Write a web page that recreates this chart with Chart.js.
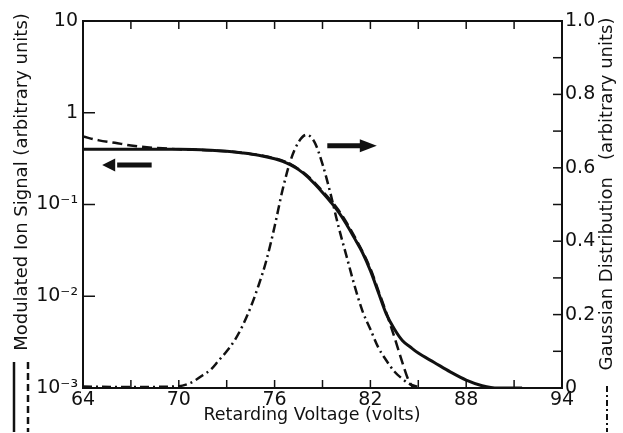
<!DOCTYPE html>
<html><head><meta charset="utf-8">
<script src="https://cdn.jsdelivr.net/npm/chart.js@4/dist/chart.umd.min.js"></script>
<style>html,body{margin:0;padding:0;background:#fff}#wrap{width:623px;height:433px}</style>
</head><body><div id="wrap"><canvas id="c" width="623" height="433"></canvas></div>
<script>
// ---- data ----
const solidVolts  = [64,66,68,70,72,73,74,75,76,76.5,77,77.5,78,78.5,79,79.5,80,80.5,81,81.5,82,82.5,83,83.5,84,84.5,85,86,87,88,89,90,91.5];
const solidSignal = [0.40,0.40,0.40,0.40,0.39,0.38,0.365,0.345,0.315,0.295,0.27,0.24,0.205,0.168,0.135,0.107,0.083,0.061,0.043,0.030,0.019,0.011,0.0064,0.0044,0.0033,0.0028,0.0024,0.0019,0.0015,0.00122,0.00106,0.001,0.001];
const dashedVolts  = [64,65,66,67,68,69,70,72,74,76,77,78,79,80,81,82,82.5,83,83.5,84,84.4,84.7];
const dashedSignal = [0.55,0.50,0.47,0.44,0.42,0.41,0.40,0.39,0.365,0.32,0.275,0.21,0.14,0.087,0.045,0.020,0.0115,0.0066,0.0036,0.0019,0.0012,0.001];
const gaussVolts = [64,66,68,70,70.5,71,71.5,72,72.5,73,73.5,74,74.5,75,75.5,76,76.5,77,77.5,78,78.5,79,79.5,80,80.5,81,81.5,82,82.5,83,83.5,84,84.5,85];
const gaussValue = [0.004,0.003,0.003,0.005,0.01,0.02,0.035,0.05,0.075,0.10,0.13,0.17,0.22,0.28,0.35,0.44,0.54,0.62,0.67,0.69,0.67,0.61,0.53,0.44,0.36,0.28,0.21,0.16,0.11,0.075,0.045,0.025,0.01,0.003];

const xTicks = [64,67,70,73,76,79,82,85,88,91,94];
const xTickLabels = ['64','','70','','76','','82','','88','','94'];
const leftTicks = [0.001,0.01,0.1,1,10];
const leftTickLabels = ['10\u207B\u00B3','10\u207B\u00B2','10\u207B\u00B9','1','10'];
const rightTicks = [0,0.1,0.2,0.3,0.4,0.5,0.6,0.7,0.8,0.9,1.0];
const rightTickLabels = ['0','','0.2','','0.4','','0.6','','0.8','','1.0'];

// arrows (tail volts, head volts) and level on their axis
const leftArrowVolts = [68.3, 65.2];  const leftArrowLevel = 0.27;
const rightArrowVolts = [79.3, 82.4]; const rightArrowLevel = 0.66;

const xTitle = 'Retarding Voltage (volts)';
const leftTitle = 'Modulated Ion Signal (arbitrary units)';
const rightTitle = 'Gaussian Distribution   (arbitrary units)';

// ---- chart ----
const INK = '#111';
const FONT = '"DejaVu Sans", sans-serif';
const pts = (xs, ys) => xs.map((v, i) => ({x: v, y: ys[i]}));

function seg(ctx, x1, y1, x2, y2){ctx.beginPath();ctx.moveTo(x1,y1);ctx.lineTo(x2,y2);ctx.stroke();}
function arrow(ctx, x1, x2, yy){
  const dir = Math.sign(x2 - x1), head = 15;
  ctx.lineWidth = 5; ctx.setLineDash([]);
  seg(ctx, x1, yy, x2 - dir*head, yy);
  ctx.beginPath(); ctx.moveTo(x2, yy); ctx.lineTo(x2 - dir*head - 2, yy - 6.5); ctx.lineTo(x2 - dir*head - 2, yy + 6.5); ctx.closePath(); ctx.fill();
}

const decor = {
  id: 'decor',
  afterDraw(chart){
    const {ctx, chartArea: a, scales: {x, y, y2}} = chart;
    ctx.save();
    ctx.strokeStyle = INK; ctx.fillStyle = INK;
    ctx.lineWidth = 2;
    ctx.strokeRect(a.left, a.top, a.right - a.left, a.bottom - a.top);
    ctx.lineWidth = 1.5;
    xTicks.forEach(v => { const p = x.getPixelForValue(v); seg(ctx,p,a.bottom,p,a.bottom-8); seg(ctx,p,a.top,p,a.top+8); });
    leftTicks.forEach(v => { const p = y.getPixelForValue(v); seg(ctx,a.left,p,a.left+12,p); });
    rightTicks.forEach(v => { const p = y2.getPixelForValue(v); seg(ctx,a.right,p,a.right-9,p); });
    // arrows
    arrow(ctx, x.getPixelForValue(leftArrowVolts[0]), x.getPixelForValue(leftArrowVolts[1]), y.getPixelForValue(leftArrowLevel));
    arrow(ctx, x.getPixelForValue(rightArrowVolts[0]), x.getPixelForValue(rightArrowVolts[1]), y2.getPixelForValue(rightArrowLevel));
    // titles
    ctx.textAlign = 'center'; ctx.textBaseline = 'middle';
    ctx.font = '17.5px ' + FONT;
    ctx.fillText(xTitle, 312, 415);
    ctx.font = '18px ' + FONT;
    ctx.save(); ctx.translate(22, 182); ctx.rotate(-Math.PI/2); ctx.fillText(leftTitle, 0, 0); ctx.restore();
    ctx.save(); ctx.translate(607, 194); ctx.rotate(-Math.PI/2); ctx.fillText(rightTitle, 0, 0); ctx.restore();
    // line-style keys
    ctx.lineWidth = 2.5;
    seg(ctx, 14, 362, 14, 432);
    ctx.setLineDash([7,4]); seg(ctx, 28, 362, 28, 432);
    ctx.lineWidth = 2; ctx.setLineDash([6,3,2,3]); seg(ctx, 607, 386, 607, 432);
    ctx.restore();
  }
};

new Chart(document.getElementById('c'), {
  type: 'scatter',
  data: {datasets: [
    {data: pts(solidVolts, solidSignal), yAxisID: 'y', showLine: true, borderColor: INK, borderWidth: 3, pointRadius: 0, cubicInterpolationMode: 'monotone'},
    {data: pts(dashedVolts, dashedSignal), yAxisID: 'y', showLine: true, borderColor: INK, borderWidth: 2.5, borderDash: [10,5], pointRadius: 0, cubicInterpolationMode: 'monotone'},
    {data: pts(gaussVolts, gaussValue), yAxisID: 'y2', showLine: true, borderColor: INK, borderWidth: 2.5, borderDash: [9,4,2,4], pointRadius: 0, cubicInterpolationMode: 'monotone'}
  ]},
  options: {
    responsive: false, animation: false, devicePixelRatio: 1,
    layout: {padding: {top: 21, left: 0, right: 0, bottom: 0}},
    plugins: {legend: {display: false}, tooltip: {enabled: false}},
    scales: {
      x: {type: 'linear', min: 64, max: 94,
        afterBuildTicks: s => { s.ticks = xTicks.map(v => ({value: v})); },
        ticks: {autoSkip: false, maxRotation: 0, padding: 1, color: INK, font: {family: FONT, size: 19}, callback: (v, i) => xTickLabels[i]},
        grid: {display: false, drawTicks: false}, border: {display: false},
        afterFit: s => { s.height = 45; }},
      y: {type: 'logarithmic', position: 'left', min: 0.001, max: 10,
        afterBuildTicks: s => { s.ticks = leftTicks.map(v => ({value: v})); },
        ticks: {autoSkip: false, padding: 5, color: INK, font: {family: FONT, size: 19}, callback: (v, i) => leftTickLabels[i]},
        grid: {display: false, drawTicks: false}, border: {display: false},
        afterFit: s => { s.width = 83; }},
      y2: {type: 'linear', position: 'right', min: 0, max: 1,
        afterBuildTicks: s => { s.ticks = rightTicks.map(v => ({value: v})); },
        ticks: {autoSkip: false, padding: 3, color: INK, font: {family: FONT, size: 19}, callback: (v, i) => rightTickLabels[i]},
        grid: {display: false, drawTicks: false}, border: {display: false},
        afterFit: s => { s.width = 61; }}
    }
  },
  plugins: [decor]
});
</script></body></html>
